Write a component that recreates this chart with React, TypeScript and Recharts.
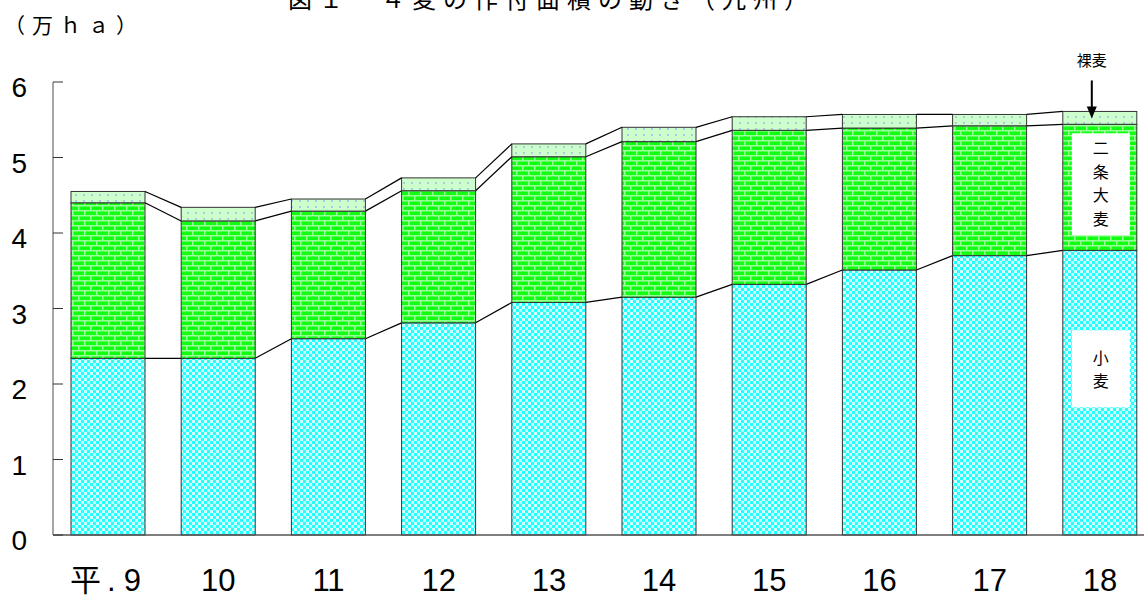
import React from 'react';
import { BarChart, Bar, XAxis, YAxis } from 'recharts';

const years = ['平.9', '10', '11', '12', '13', '14', '15', '16', '17', '18'];
const wheat = [2.34, 2.34, 2.6, 2.81, 3.08, 3.15, 3.32, 3.51, 3.7, 3.77];
const twoRow = [2.06, 1.82, 1.69, 1.75, 1.93, 2.06, 2.04, 1.88, 1.72, 1.67];
const naked = [0.15, 0.18, 0.16, 0.17, 0.17, 0.19, 0.18, 0.18, 0.15, 0.17];
const yTicks = [0, 1, 2, 3, 4, 5, 6];

const data = years.map((year, i) => ({
  year,
  wheat: wheat[i],
  twoRow: twoRow[i],
  naked: naked[i],
}));

const NUM_FONT = '"Liberation Sans", Arial, "Noto Sans CJK JP", sans-serif';
const CJK_FONT = '"Noto Sans CJK JP", "Noto Sans CJK SC", sans-serif';

const prevTops: Record<string, { x: number; y: number; w: number }[]> = {
  wheat: [],
  twoRow: [],
  naked: [],
};

function VerticalLabel({ cx, top, chars, step }: { cx: number; top: number; chars: string[]; step: number }) {
  return (
    <g>
      {chars.map((c, i) => (
        <text
          key={i}
          x={cx}
          y={top + i * step}
          textAnchor="middle"
          fontSize={16}
          fontFamily={CJK_FONT}
          fill="#000"
        >
          {c}
        </text>
      ))}
    </g>
  );
}

function makeShape(key: string, pattern: string) {
  return (props: any) => {
    const { x, y, width, height, index } = props;
    prevTops[key][index] = { x, y, w: width };
    const prev = index > 0 ? prevTops[key][index - 1] : null;
    const last = index === data.length - 1;
    return (
      <g>
        <rect
          x={x}
          y={y}
          width={width}
          height={height}
          fill={`url(#${pattern})`}
          stroke="#333"
          strokeWidth={1}
        />
        {prev && (
          <line x1={prev.x + prev.w} y1={prev.y} x2={x} y2={y} stroke="#000" strokeWidth={1.2} />
        )}
        {last && key === 'wheat' && (
          <g>
            <rect x={x + 9} y={y + 80} width={width - 16} height={77} fill="#fff" />
            <VerticalLabel cx={x + 9 + (width - 16) / 2} top={y + 114} chars={['小', '麦']} step={23} />
          </g>
        )}
        {last && key === 'twoRow' && (
          <g>
            <rect x={x + 9} y={y + 9} width={width - 16} height={102} fill="#fff" />
            <VerticalLabel cx={x + 9 + (width - 16) / 2} top={y + 30} chars={['二', '条', '大', '麦']} step={23.5} />
          </g>
        )}
        {last && key === 'naked' && (
          <g>
            <text
              x={x + 29}
              y={y - 45}
              textAnchor="middle"
              fontSize={15}
              fontFamily={CJK_FONT}
              fill="#000"
            >
              裸麦
            </text>
            <line x1={x + 29} y1={y - 31} x2={x + 29} y2={y - 3} stroke="#000" strokeWidth={2} />
            <path d={`M ${x + 24} ${y - 5} L ${x + 34} ${y - 5} L ${x + 29} ${y + 7} Z`} fill="#000" />
          </g>
        )}
      </g>
    );
  };
}

const wheatShape = makeShape('wheat', 'pWheat');
const twoRowShape = makeShape('twoRow', 'pBarley');
const nakedShape = makeShape('naked', 'pNaked');

const YTick = (props: any) => {
  const { x, y, payload } = props;
  return (
    <g>
      <line x1={x} y1={y} x2={x + 10} y2={y} stroke="#333" strokeWidth={1} />
      <text x={x - 26} y={y + 15} textAnchor="end" fontSize={28} fontFamily={NUM_FONT} fill="#000">
        {payload.value}
      </text>
    </g>
  );
};

const XTick = (props: any) => {
  const { x, y, payload } = props;
  const v = String(payload.value);
  if (v.startsWith('平')) {
    const rest = v.slice(1).split('.');
    return (
      <text x={x - 38} y={y + 56} textAnchor="start" fontSize={31} fontFamily={NUM_FONT} fill="#000">
        平<tspan dx={6}>.</tspan>
        <tspan dx={8}>{rest[1]}</tspan>
      </text>
    );
  }
  return (
    <text x={x} y={y + 56} textAnchor="middle" fontSize={31} fontFamily={NUM_FONT} fill="#000">
      {v}
    </text>
  );
};

export default function App() {
  return (
    <div
      style={{
        position: 'fixed',
        left: 0,
        top: 0,
        width: 1144,
        height: 597,
        overflow: 'hidden',
        background: '#fff',
      }}
    >
      <BarChart
        width={1156}
        height={597}
        data={data}
        margin={{ top: 82, right: 1, bottom: 0, left: 0 }}
        barSize={74}
      >
        <defs>
          <pattern id="pWheat" width="6" height="6" patternUnits="userSpaceOnUse">
            <rect width="6" height="6" fill="#22FFFF" />
            <rect x="0" y="0" width="3" height="3" fill="#D0FFFF" />
            <rect x="3" y="3" width="3" height="3" fill="#D0FFFF" />
          </pattern>
          <pattern id="pBarley" width="12" height="10" patternUnits="userSpaceOnUse">
            <rect width="12" height="10" fill="#11FF11" />
            <rect x="0" y="0" width="12" height="1.5" fill="#99FF99" />
            <rect x="0" y="5" width="12" height="1.5" fill="#99FF99" />
            <rect x="0" y="0" width="1.5" height="5" fill="#99FF99" />
            <rect x="6" y="5" width="1.5" height="5" fill="#99FF99" />
          </pattern>
          <pattern id="pNaked" width="8" height="6" patternUnits="userSpaceOnUse">
            <rect width="8" height="6" fill="#CCFFCC" />
            <rect x="3" y="2" width="2" height="2" fill="#A8CCE0" />
          </pattern>
        </defs>
        <XAxis
          dataKey="year"
          height={62}
          axisLine={{ stroke: '#555', strokeWidth: 1.5 }}
          tickLine={false}
          tickSize={0}
          tickMargin={0}
          interval={0}
          tick={<XTick />}
        />
        <YAxis
          width={53}
          domain={[0, 6]}
          ticks={yTicks}
          interval={0}
          axisLine={{ stroke: '#888', strokeWidth: 1.5 }}
          tickLine={false}
          tickSize={0}
          tickMargin={0}
          tick={<YTick />}
        />
        <Bar dataKey="wheat" stackId="a" isAnimationActive={false} shape={wheatShape} />
        <Bar dataKey="twoRow" stackId="a" isAnimationActive={false} shape={twoRowShape} />
        <Bar dataKey="naked" stackId="a" isAnimationActive={false} shape={nakedShape} />
      </BarChart>
      <svg
        width={1144}
        height={597}
        style={{ position: 'absolute', left: 0, top: 0, pointerEvents: 'none' }}
      >
        <text x={288} y={8} fontSize={24} letterSpacing={7} fontFamily={CJK_FONT} fill="#000">
          図１　４麦の作付面積の動き（九州）
        </text>
        <text x={4} y={33} fontSize={21} letterSpacing={7} fontFamily={CJK_FONT} fill="#000">
          （万ｈａ）
        </text>
      </svg>
    </div>
  );
}
